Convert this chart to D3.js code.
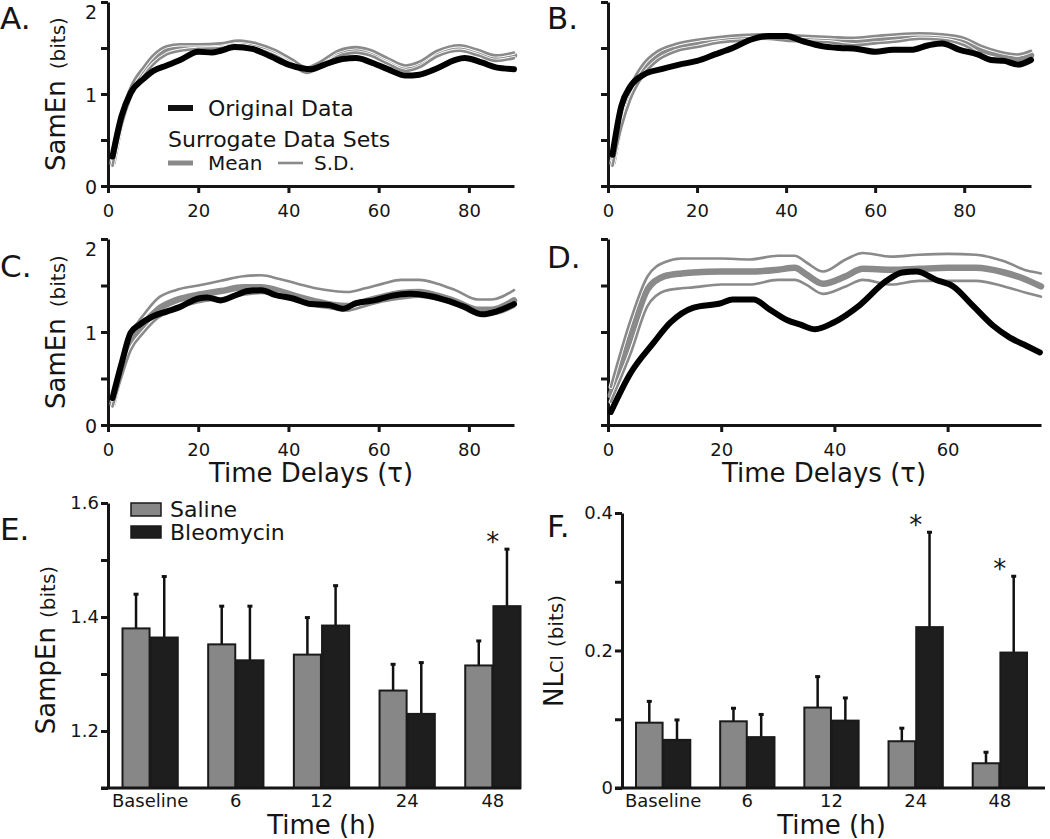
<!DOCTYPE html>
<html><head><meta charset="utf-8">
<script src="https://cdn.jsdelivr.net/npm/d3@7"></script>
<style>
body{margin:0;background:#fff}
svg{display:block}
text{font-family:"DejaVu Sans",Verdana,sans-serif;fill:#151515}
</style>
</head><body>
<svg id="c" width="1050" height="839"></svg>
<script>
// ---------- Panel A ----------
const tauOrigA = [1,3,5,8,10,13,16,20,23,25,28,32,36,40,43,45,48,52,55,58,62,66,69,73,77,79,83,86,90];
const origA    = [0.32,0.76,1.01,1.17,1.25,1.31,1.37,1.46,1.45,1.47,1.51,1.49,1.41,1.32,1.28,1.27,1.32,1.38,1.39,1.35,1.27,1.20,1.21,1.28,1.37,1.39,1.34,1.29,1.27];
const tauSurA  = [1,3,5,8,10,13,16,20,25,29,33,37,41,44,47,51,55,58,62,66,69,73,78,82,86,90];
const meanA    = [0.25,0.72,1.01,1.25,1.37,1.48,1.51,1.52,1.53,1.56,1.52,1.45,1.34,1.26,1.32,1.44,1.48,1.45,1.36,1.28,1.32,1.44,1.50,1.45,1.39,1.42];
const sdHiA    = [0.28,0.78,1.07,1.30,1.42,1.52,1.54,1.54,1.55,1.58,1.55,1.48,1.37,1.29,1.35,1.47,1.51,1.48,1.39,1.31,1.35,1.47,1.53,1.48,1.42,1.45];
const sdLoA    = [0.22,0.66,0.96,1.20,1.32,1.43,1.47,1.49,1.50,1.53,1.49,1.42,1.31,1.23,1.29,1.41,1.45,1.42,1.33,1.25,1.29,1.41,1.47,1.42,1.36,1.39];

// ---------- Panel B ----------
const tauOrigB = [1,3,5,8,12,16,20,24,28,32,36,40,44,48,52,56,60,64,68,72,75,79,83,86,89,92,95];
const origB    = [0.34,0.87,1.08,1.21,1.27,1.32,1.36,1.43,1.50,1.59,1.63,1.63,1.57,1.52,1.50,1.49,1.46,1.48,1.48,1.53,1.55,1.48,1.43,1.37,1.36,1.32,1.37];
const tauSurB  = [1,3,5,8,11,15,20,25,30,35,40,45,50,55,60,65,70,75,80,84,88,92,95];
const meanB    = [0.25,0.72,1.01,1.27,1.41,1.50,1.55,1.59,1.61,1.63,1.61,1.60,1.59,1.57,1.59,1.61,1.63,1.62,1.57,1.47,1.41,1.37,1.42];
const sdHiB    = [0.28,0.80,1.08,1.33,1.46,1.54,1.59,1.62,1.64,1.65,1.64,1.63,1.62,1.61,1.63,1.65,1.66,1.65,1.61,1.52,1.46,1.43,1.47];
const sdLoB    = [0.22,0.64,0.94,1.21,1.36,1.46,1.51,1.56,1.58,1.60,1.58,1.57,1.56,1.53,1.55,1.57,1.60,1.59,1.53,1.42,1.37,1.33,1.37];

// ---------- Panel C ----------
const tauOrigC = [1,3,5,7,10,13,16,20,22,25,28,31,34,37,41,45,49,52,55,59,63,67,71,75,79,83,86,90];
const origC    = [0.29,0.66,0.99,1.08,1.17,1.22,1.27,1.36,1.37,1.34,1.39,1.44,1.45,1.40,1.36,1.30,1.29,1.25,1.31,1.34,1.39,1.41,1.39,1.34,1.27,1.19,1.22,1.30];
const tauSurC  = [1,3,5,8,11,15,20,25,30,34,38,42,46,50,53,57,61,65,69,73,77,82,85,90];
const meanC    = [0.23,0.59,0.88,1.09,1.24,1.34,1.40,1.44,1.48,1.48,1.44,1.38,1.33,1.29,1.28,1.33,1.38,1.42,1.43,1.39,1.33,1.24,1.24,1.34];
const sdHiC    = [0.27,0.68,0.97,1.19,1.36,1.45,1.50,1.55,1.60,1.61,1.57,1.52,1.47,1.44,1.43,1.47,1.52,1.56,1.56,1.52,1.45,1.35,1.35,1.45];
const sdLoC    = [0.20,0.52,0.80,1.00,1.15,1.25,1.32,1.36,1.40,1.42,1.40,1.34,1.28,1.25,1.23,1.28,1.33,1.36,1.38,1.35,1.30,1.19,1.19,1.27];

// ---------- Panel D ----------
const tauOrigD = [0.5,4,8,11,15,20,22,25.7,28.6,31.6,34,36.6,39.8,44.5,49.2,52,54.5,58,61,64.5,68,71,74,76.3];
const origD    = [0.14,0.56,0.88,1.10,1.26,1.31,1.35,1.35,1.24,1.13,1.08,1.03,1.10,1.29,1.55,1.64,1.65,1.56,1.49,1.28,1.07,0.94,0.85,0.78];
const tauSurD  = [0.5,4,7,10,13,15,20,25,30,33,35,38,42,45,50,55,60,65,70,74,76.5];
const meanD    = [0.32,0.95,1.46,1.60,1.63,1.64,1.65,1.65,1.67,1.69,1.62,1.52,1.60,1.68,1.67,1.68,1.69,1.69,1.64,1.56,1.49];
const sdHiD    = [0.41,1.13,1.60,1.75,1.79,1.79,1.79,1.78,1.82,1.82,1.75,1.65,1.78,1.85,1.81,1.83,1.84,1.83,1.76,1.66,1.63];
const sdLoD    = [0.25,0.77,1.28,1.44,1.47,1.48,1.51,1.51,1.56,1.56,1.51,1.41,1.49,1.56,1.51,1.55,1.55,1.55,1.49,1.42,1.38];

// ---------- Panels E & F ----------
const timeCats = ["Baseline","6","12","24","48"];
const groups = ["Saline","Bleomycin"];
const salineSampEn    = [1.380,1.352,1.334,1.271,1.315];
const salineSampEnErr = [0.060,0.067,0.065,0.046,0.043];
const bleoSampEn      = [1.364,1.324,1.385,1.230,1.419];
const bleoSampEnErr   = [0.107,0.095,0.070,0.090,0.100];
const sigSampEn       = [false,false,false,false,true];
const salineNLCI      = [0.095,0.097,0.117,0.068,0.036];
const salineNLCIErr   = [0.031,0.019,0.045,0.019,0.016];
const bleoNLCI        = [0.070,0.074,0.098,0.234,0.197];
const bleoNLCIErr     = [0.029,0.033,0.033,0.138,0.111];
const sigNLCI         = [false,false,false,true,true];

const topYTicks = [0,0.5,1,1.5,2];
const xTicksABC = [0,20,40,60,80];
const xTicksD = [0,20,40,60];
const ticksE = [1.1,1.2,1.3,1.4,1.5,1.6];
const ticksF = [0,0.1,0.2,0.3,0.4];

const svg = d3.select("#c");
const GRAY = "#8a8a8a", INK = "#151515";

function styleAxis(sel){
  sel.selectAll("path.domain").attr("stroke", INK).attr("stroke-width", 3);
  sel.selectAll(".tick line").attr("stroke", INK).attr("stroke-width", 3);
  sel.selectAll("text").attr("fill", INK).attr("font-family", '"DejaVu Sans",Verdana,sans-serif');
}

function panelLabel(txt, x, y){
  svg.append("text").attr("x", x).attr("y", y).attr("font-size", 31).text(txt);
}

function yLabel(x, y, parts){
  const t = svg.append("text").attr("transform", `translate(${x},${y}) rotate(-90)`).attr("text-anchor","middle");
  parts.forEach(p => {
    const s = t.append("tspan").attr("font-size", p[1]).text(p[0]);
    if (p[2]) s.attr("dx", p[2]);
  });
}

function linePanel(cfg){
  const x = d3.scaleLinear().domain(cfg.xd).range(cfg.xr);
  const y = d3.scaleLinear().domain([0,2]).range(cfg.yr);
  const g = svg.append("g");
  const ya = d3.axisLeft(y).tickValues(topYTicks).tickSize(7).tickSizeOuter(0).tickPadding(4)
    .tickFormat(d => (cfg.yLabels && Number.isInteger(d)) ? d : "");
  const yg = g.append("g").attr("transform", `translate(${cfg.xr[0]},0)`).call(ya);
  yg.selectAll("text").attr("font-size", 19).attr("dy", d => d === 2 ? "0.87em" : "0.38em");
  styleAxis(yg);
  const xa = d3.axisBottom(x).tickValues(cfg.xt).tickSize(7).tickSizeOuter(0);
  const xg = g.append("g").attr("transform", `translate(0,${cfg.yr[0]})`).call(xa);
  xg.selectAll("text").attr("font-size", 18).attr("y", 31).attr("dy", 0);
  styleAxis(xg);

  const mk = tau => d3.line().x((d,i) => x(tau[i])).y(d => y(d)).curve(d3.curveMonotoneX);
  const lg = g.append("g").attr("fill","none").attr("stroke-linejoin","round").attr("stroke-linecap","round");
  lg.append("path").attr("d", mk(cfg.tauS)(cfg.mean)).attr("stroke", GRAY).attr("stroke-width", 6.5);
  [cfg.hi, cfg.lo].forEach(s => {
    lg.append("path").attr("d", mk(cfg.tauS)(s)).attr("stroke", "#fff").attr("stroke-width", 4.4);
    lg.append("path").attr("d", mk(cfg.tauS)(s)).attr("stroke", GRAY).attr("stroke-width", 2.6);
  });
  lg.append("path").attr("d", mk(cfg.tauO)(cfg.orig)).attr("stroke", "#000").attr("stroke-width", 6);
  return {x, y};
}

linePanel({xd:[0,90], xr:[108,514], yr:[186,2], xt:xTicksABC, yLabels:true,
  tauO:tauOrigA, orig:origA, tauS:tauSurA, mean:meanA, hi:sdHiA, lo:sdLoA});
linePanel({xd:[0,95], xr:[608,1031], yr:[186,2], xt:xTicksABC, yLabels:false,
  tauO:tauOrigB, orig:origB, tauS:tauSurB, mean:meanB, hi:sdHiB, lo:sdLoB});
linePanel({xd:[0,90], xr:[108,514], yr:[425,239], xt:xTicksABC, yLabels:true,
  tauO:tauOrigC, orig:origC, tauS:tauSurC, mean:meanC, hi:sdHiC, lo:sdLoC});
linePanel({xd:[0,76.5], xr:[608,1041], yr:[425,239], xt:xTicksD, yLabels:false,
  tauO:tauOrigD, orig:origD, tauS:tauSurD, mean:meanD, hi:sdHiD, lo:sdLoD});

panelLabel("A.", 0, 29); panelLabel("B.", 547, 29);
panelLabel("C.", 0, 277); panelLabel("D.", 547, 268);
panelLabel("E.", 0, 540); panelLabel("F.", 547, 537);

yLabel(65, 94, [["SamEn",26],["(bits)",20,11]]);
yLabel(65, 332, [["SamEn",26],["(bits)",20,11]]);
svg.append("text").attr("x", 311).attr("y", 482).attr("text-anchor","middle").attr("font-size", 26).text("Time Delays (τ)");
svg.append("text").attr("x", 824).attr("y", 482).attr("text-anchor","middle").attr("font-size", 26).text("Time Delays (τ)");

// Legend in A
const leg = svg.append("g");
leg.append("line").attr("x1",168).attr("x2",193).attr("y1",108).attr("y2",108).attr("stroke","#111").attr("stroke-width",6);
leg.append("text").attr("x",208).attr("y",116).attr("font-size",22).text("Original Data");
leg.append("text").attr("x",168).attr("y",147).attr("font-size",22).text("Surrogate Data Sets");
leg.append("line").attr("x1",168).attr("x2",193).attr("y1",163).attr("y2",163).attr("stroke",GRAY).attr("stroke-width",5);
leg.append("text").attr("x",208).attr("y",170).attr("font-size",20).text("Mean");
leg.append("line").attr("x1",278).attr("x2",303).attr("y1",163).attr("y2",163).attr("stroke",GRAY).attr("stroke-width",2.6);
leg.append("text").attr("x",314).attr("y",170).attr("font-size",20).text("S.D.");

// ---------- bar panels ----------
function barPanel(cfg){
  const x = d3.scaleBand().domain(timeCats).range(cfg.xr).paddingInner(0.355).paddingOuter(0);
  const xs = d3.scaleBand().domain(groups).range([0, x.bandwidth()]).paddingInner(0.04);
  const y = d3.scaleLinear().domain(cfg.yd).range([788, cfg.yTop]);
  const g = svg.append("g");
  const ya = d3.axisLeft(y).tickValues(cfg.ticks).tickSize(7).tickSizeOuter(0).tickPadding(2)
    .tickFormat(cfg.fmt);
  const yg = g.append("g").attr("transform", `translate(${cfg.axisX},0)`).call(ya);
  yg.selectAll("text").attr("font-size", 18);
  styleAxis(yg);
  const xg = g.append("g").attr("transform", "translate(0,788)").call(d3.axisBottom(x).tickSize(0));
  xg.select("path.domain").remove();
  xg.selectAll("text").attr("font-size", 18).attr("y", 19).attr("dy", 0).attr("fill", INK);

  const series = [
    {key:"Saline", v:cfg.sal, e:cfg.salE, fill:"#878787"},
    {key:"Bleomycin", v:cfg.bleo, e:cfg.bleoE, fill:"#1e1e1e"}
  ];
  series.forEach(s => {
    timeCats.forEach((c,i) => {
      const bx = x(c) + xs(s.key), bw = xs.bandwidth(), cx = bx + bw/2;
      g.append("line").attr("x1",cx).attr("x2",cx).attr("y1",y(s.v[i])).attr("y2",y(s.v[i]+s.e[i]))
        .attr("stroke","#111").attr("stroke-width",2.5);
      g.append("line").attr("x1",cx-2.5).attr("x2",cx+2.5).attr("y1",y(s.v[i]+s.e[i])).attr("y2",y(s.v[i]+s.e[i]))
        .attr("stroke","#111").attr("stroke-width",3);
      g.append("rect").attr("x",bx).attr("y",y(s.v[i])).attr("width",bw).attr("height",788-y(s.v[i]))
        .attr("fill",s.fill).attr("stroke","#1a1a1a").attr("stroke-width",2);
    });
  });
  cfg.sig.forEach((sg,i) => {
    if(!sg) return;
    const top = Math.max(cfg.sal[i]+cfg.salE[i], cfg.bleo[i]+cfg.bleoE[i]);
    g.append("text").attr("x", x(timeCats[i]) + x.bandwidth()/2).attr("y", y(top) + 2)
      .attr("text-anchor","middle").attr("font-size", 26).text("*");
  });
  g.append("line").attr("x1", cfg.axisX - 7).attr("x2", cfg.axisEnd).attr("y1", 788).attr("y2", 788)
    .attr("stroke", INK).attr("stroke-width", 3);
  const cx = (cfg.xr[0]+cfg.xr[1])/2;
  svg.append("text").attr("x", cx).attr("y", 834).attr("text-anchor","middle").attr("font-size", 26).text("Time (h)");
  return {x, y};
}

barPanel({xr:[122.5,520.5], yd:[1.1,1.6], yTop:503, axisX:108, axisEnd:521, ticks:ticksE,
  fmt: d => [1.2,1.4,1.6].some(t => Math.abs(t-d)<1e-9) ? d.toFixed(1) : "",
  sal:salineSampEn, salE:salineSampEnErr, bleo:bleoSampEn, bleoE:bleoSampEnErr, sig:sigSampEn});
barPanel({xr:[636,1027], yd:[0,0.4], yTop:513, axisX:622, axisEnd:1045, ticks:ticksF,
  fmt: d => d===0 ? "0" : ([0.2,0.4].some(t => Math.abs(t-d)<1e-9) ? d.toFixed(1) : ""),
  sal:salineNLCI, salE:salineNLCIErr, bleo:bleoNLCI, bleoE:bleoNLCIErr, sig:sigNLCI});

yLabel(55, 650, [["SampEn",26],["(bits)",20,9]]);
yLabel(563, 651, [["NL",26],["CI",18],["(bits)",20,8]]);

// Legend E
const le = svg.append("g");
le.append("rect").attr("x",131).attr("y",503).attr("width",30).attr("height",13).attr("fill","#878787").attr("stroke","#1a1a1a").attr("stroke-width",1.5);
le.append("rect").attr("x",131).attr("y",526).attr("width",30).attr("height",12).attr("fill","#1e1e1e").attr("stroke","#1a1a1a").attr("stroke-width",1.5);
le.append("text").attr("x",170).attr("y",517).attr("font-size",22).text("Saline");
le.append("text").attr("x",170).attr("y",540).attr("font-size",22).text("Bleomycin");
</script>
</body></html>
